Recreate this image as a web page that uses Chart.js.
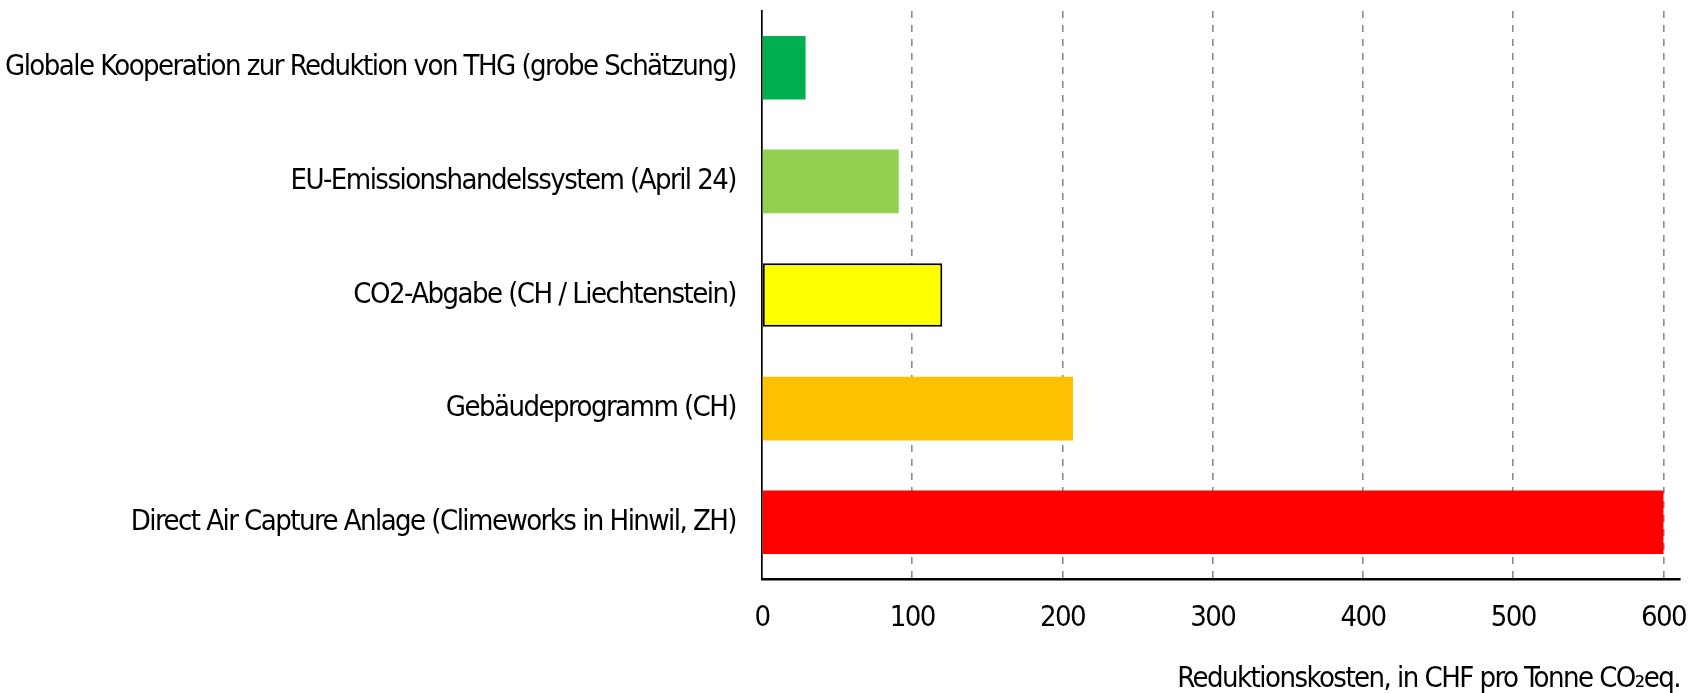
<!DOCTYPE html>
<html>
<head>
<meta charset="utf-8">
<script src="https://cdn.jsdelivr.net/npm/chart.js@4"></script>
<style>
  html, body { margin: 0; padding: 0; background: #fff; }
  #wrap { width: 1690px; height: 693px; position: relative; }
</style>
</head>
<body>
<div id="wrap"><canvas id="chart"></canvas></div>
<script>
const categories = [
    'Globale Kooperation zur Reduktion von THG (grobe Schätzung)',
    'EU-Emissionshandelssystem (April 24)',
    'CO2-Abgabe (CH / Liechtenstein)',
    'Gebäudeprogramm (CH)',
    'Direct Air Capture Anlage (Climeworks in Hinwil, ZH)'
];
const costs = [29, 91, 120, 207, 600];
const barColors = ['#00B050', '#92D050', '#FFFF00', '#FFC000', '#FF0000'];
const barBorders = [0, 0, 2, 0, 0];
const xTicks = [0, 100, 200, 300, 400, 500, 600];
const xTitle = 'Reduktionskosten, in CHF pro Tonne CO₂eq.';

const FONT = "'Liberation Sans Narrow', 'DejaVu Sans Condensed', sans-serif";
Chart.defaults.color = '#000';

// squeeze the text a bit, the original uses a condensed DIN-like face
const narrowText = {
    id: 'narrowText',
    beforeUpdate(chart) { chart.ctx.letterSpacing = '-1.55px'; },
    beforeDraw(chart) { chart.ctx.letterSpacing = '-1.55px'; }
};

new Chart(document.getElementById('chart').getContext('2d'), {
    type: 'bar',
    data: {
        labels: categories,
        datasets: [{
            data: costs,
            backgroundColor: barColors,
            borderColor: '#000',
            borderWidth: barBorders,
            borderSkipped: false,
            categoryPercentage: 1,
            barPercentage: 0.56
        }]
    },
    plugins: [narrowText],
    options: {
        indexAxis: 'y',
        responsive: true,
        maintainAspectRatio: false,
        animation: false,
        layout: { padding: { top: 11, right: 10, bottom: 0, left: 0 } },
        plugins: {
            legend: { display: false },
            tooltip: { enabled: false }
        },
        scales: {
            x: {
                min: 0,
                max: 611,
                afterFit: s => { s.height = 114; s.paddingLeft = 0; s.paddingRight = 0; },
                ticks: {
                    stepSize: 100,
                    includeBounds: false,
                    padding: 22,
                    maxRotation: 0,
                    autoSkip: false,
                    font: { family: FONT, size: 29 },
                    callback: v => xTicks.includes(v) ? String(v) : ''
                },
                grid: {
                    drawTicks: false,
                    lineWidth: 1.6,
                    color: c => (c.tick && c.tick.value > 0 && xTicks.includes(c.tick.value)) ? '#8c8c8c' : 'rgba(0,0,0,0)'
                },
                border: { display: true, color: '#000', width: 2.5, dash: [7, 7] },
                title: {
                    display: true,
                    text: xTitle,
                    align: 'end',
                    padding: { top: 12, bottom: -4 },
                    font: { family: FONT, size: 29 }
                }
            },
            y: {
                afterFit: s => { s.width = 762; s.paddingTop = 0; s.paddingBottom = 0; },
                ticks: {
                    padding: 26,
                    font: { family: FONT, size: 29 }
                },
                grid: { display: false, drawTicks: false },
                border: { display: true, color: '#000', width: 1.7 }
            }
        }
    }
});
</script>
</body>
</html>
